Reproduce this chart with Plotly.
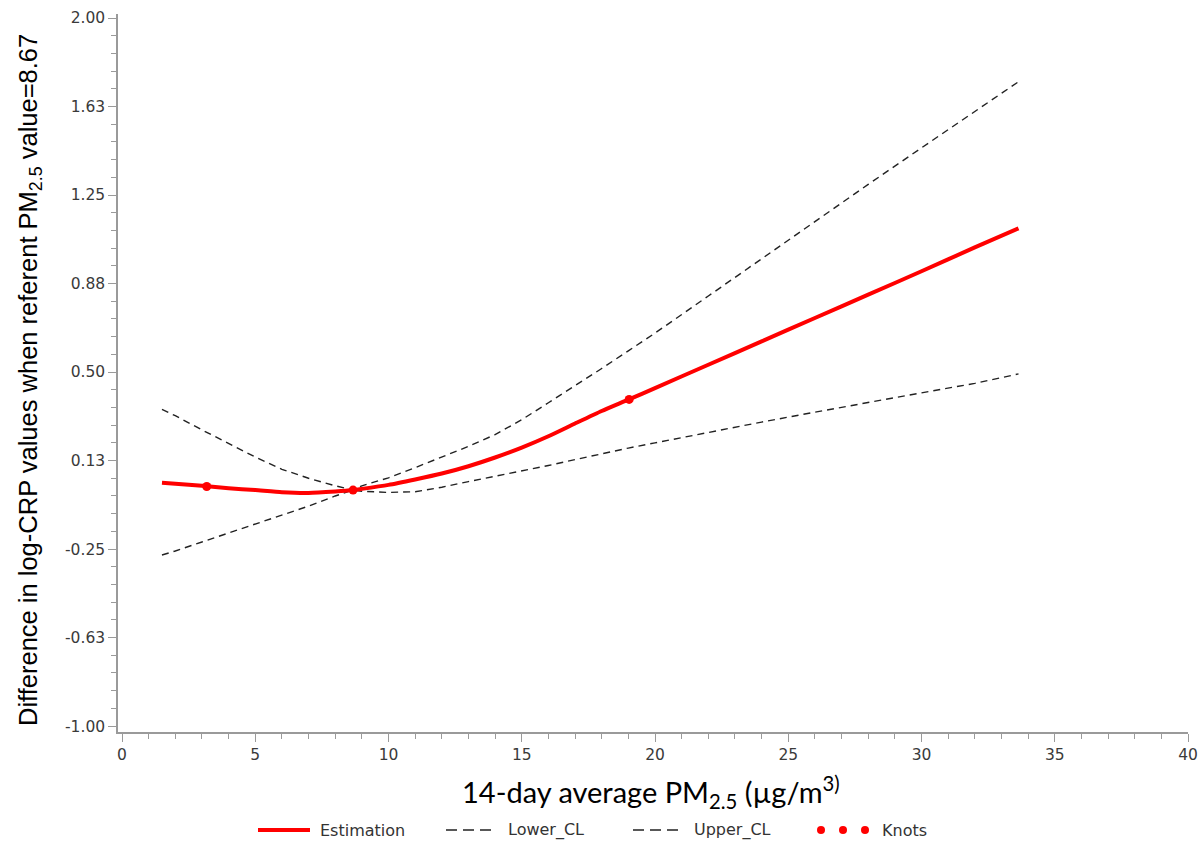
import plotly.graph_objects as go

# ---- data ----
pm25 = [1.5, 2, 3, 4, 5, 6, 7, 8, 8.67, 9, 10, 11, 12, 13, 14, 15, 16, 17, 18, 19, 20,
        22, 24, 26, 28, 30, 32, 33.64]
estimation = [0.031, 0.027, 0.018, 0.008, 0.000, -0.009, -0.012, -0.006, 0.000, 0.005, 0.022,
              0.045, 0.070, 0.101, 0.138, 0.180, 0.228, 0.282, 0.335, 0.383, 0.432,
              0.531, 0.630, 0.729, 0.828, 0.927, 1.028, 1.109]
lower_cl = [-0.275, -0.258, -0.220, -0.182, -0.145, -0.108, -0.068, -0.025, 0.000, -0.005, -0.010,
            -0.007, 0.012, 0.036, 0.058, 0.080, 0.104, 0.129, 0.154, 0.178, 0.200,
            0.245, 0.288, 0.330, 0.372, 0.412, 0.452, 0.492]
upper_cl = [0.342, 0.315, 0.255, 0.198, 0.140, 0.088, 0.050, 0.018, 0.000, 0.018, 0.052,
            0.095, 0.140, 0.185, 0.235, 0.298, 0.370, 0.442, 0.515, 0.590, 0.665,
            0.822, 0.980, 1.140, 1.295, 1.450, 1.605, 1.730]
knots_x = [3.18, 8.67, 19.03]
knots_y = [0.015, 0.000, 0.384]

y_tickvals = [-1.0, -0.625, -0.25, 0.125, 0.5, 0.875, 1.25, 1.625, 2.0]
y_ticktext = ["-1.00", "-0.63", "-0.25", "0.13", "0.50", "0.88", "1.25", "1.63", "2.00"]
x_tickvals = [0, 5, 10, 15, 20, 25, 30, 35, 40]
x_ticktext = ["0", "5", "10", "15", "20", "25", "30", "35", "40"]
legend_names = ["Estimation", "Lower_CL", "Upper_CL", "Knots"]

# ---- styles ----
RED = "#ff0000"
DASH_COLOR = "#222222"
AX_COLOR = "#9a9a9a"
TICK_FONT = dict(family="DejaVu Sans", size=15.5, color="#3a3a3a")

W, H = 1202, 847
# plot area in page pixels: left 118, right 1188, top 14, bottom 732
L, T = 118, 14
R = W - 1188
B = H - 732
PW, PH = W - L - R, H - T - B

fig = go.Figure()
fig.add_trace(go.Scatter(x=pm25, y=lower_cl, mode="lines", name=legend_names[1],
                         line=dict(color=DASH_COLOR, width=1.4, dash="7px,5px")))
fig.add_trace(go.Scatter(x=pm25, y=upper_cl, mode="lines", name=legend_names[2],
                         line=dict(color=DASH_COLOR, width=1.4, dash="7px,5px")))
fig.add_trace(go.Scatter(x=pm25, y=estimation, mode="lines", name=legend_names[0],
                         line=dict(color=RED, width=4, shape="spline", smoothing=0.5)))
fig.add_trace(go.Scatter(x=knots_x, y=knots_y, mode="markers", name=legend_names[3],
                         marker=dict(color=RED, size=9)))

fig.update_layout(
    width=W, height=H, showlegend=False,
    margin=dict(l=L, r=R, t=T, b=B, autoexpand=False),
    plot_bgcolor="white", paper_bgcolor="white",
)
fig.update_xaxes(
    range=[-0.15, 40.0], showgrid=False, zeroline=False, automargin=False,
    showline=True, linecolor=AX_COLOR, linewidth=1.5,
    tickmode="array", tickvals=x_tickvals, ticktext=x_ticktext,
    ticks="outside", ticklen=8, tickcolor=AX_COLOR, tickwidth=1,
    tickfont=TICK_FONT, ticklabeloverflow="allow",
    minor=dict(tickmode="linear", tick0=0, dtick=1, ticks="outside", ticklen=5,
               tickcolor=AX_COLOR, tickwidth=1, showgrid=False),
)
fig.update_yaxes(
    range=[-1.025, 2.017], showgrid=False, zeroline=False, automargin=False,
    showline=True, linecolor=AX_COLOR, linewidth=1.5,
    tickmode="array", tickvals=y_tickvals, ticktext=y_ticktext,
    ticks="outside", ticklen=8, tickcolor=AX_COLOR, tickwidth=1,
    tickfont=TICK_FONT,
    minor=dict(tickmode="linear", tick0=-1, dtick=0.075, ticks="outside", ticklen=5,
               tickcolor=AX_COLOR, tickwidth=1, showgrid=False),
)

def px_x(px):
    """page x pixel -> paper coordinate"""
    return (px - L) / PW

def px_y(py):
    """page y pixel -> paper coordinate"""
    return (H - B - py) / PH

# axis titles
fig.add_annotation(
    text="Difference in log-CRP values when referent PM<sub>2.5</sub> value=8.67",
    xref="paper", yref="paper", x=px_x(30), y=px_y(380), textangle=-90,
    showarrow=False, xanchor="center", yanchor="middle",
    font=dict(family="Liberation Sans", size=25.5, color="black"))
fig.add_annotation(
    text="14-day average PM<sub>2.5</sub> (µg/m<sup>3)</sup>",
    xref="paper", yref="paper", x=px_x(651), y=px_y(792),
    showarrow=False, xanchor="center", yanchor="middle",
    font=dict(family="Lato", size=29, color="black"))

# manual legend
LEG_Y = px_y(830)
LEG_FONT = dict(family="DejaVu Sans", size=16, color="#333333")
fig.add_shape(type="line", xref="paper", yref="paper", x0=px_x(258), x1=px_x(310),
              y0=LEG_Y, y1=LEG_Y, line=dict(color=RED, width=4))
fig.add_annotation(text=legend_names[0], xref="paper", yref="paper", x=px_x(318), y=LEG_Y,
                   showarrow=False, xanchor="left", yanchor="middle", font=LEG_FONT)
fig.add_shape(type="line", xref="paper", yref="paper", x0=px_x(446), x1=px_x(494),
              y0=LEG_Y, y1=LEG_Y, line=dict(color=DASH_COLOR, width=1.4, dash="11px,6px"))
fig.add_annotation(text=legend_names[1], xref="paper", yref="paper", x=px_x(506), y=LEG_Y,
                   showarrow=False, xanchor="left", yanchor="middle", font=LEG_FONT)
fig.add_shape(type="line", xref="paper", yref="paper", x0=px_x(633), x1=px_x(681),
              y0=LEG_Y, y1=LEG_Y, line=dict(color=DASH_COLOR, width=1.4, dash="11px,6px"))
fig.add_annotation(text=legend_names[2], xref="paper", yref="paper", x=px_x(692), y=LEG_Y,
                   showarrow=False, xanchor="left", yanchor="middle", font=LEG_FONT)
for cx in (821, 843, 865):
    fig.add_shape(type="circle", xref="paper", yref="paper", xsizemode="pixel", ysizemode="pixel",
                  xanchor=px_x(cx), yanchor=LEG_Y, x0=-4, x1=4, y0=-4, y1=4,
                  fillcolor=RED, line=dict(color=RED, width=0))
fig.add_annotation(text=legend_names[3], xref="paper", yref="paper", x=px_x(880), y=LEG_Y,
                   showarrow=False, xanchor="left", yanchor="middle", font=LEG_FONT)

# remove the default 8px page margin so the figure fills the window exactly
fig.write_html("out.html",
               config={"displayModeBar": False},
               post_script="document.body.style.margin='0';document.body.style.overflow='hidden';")
